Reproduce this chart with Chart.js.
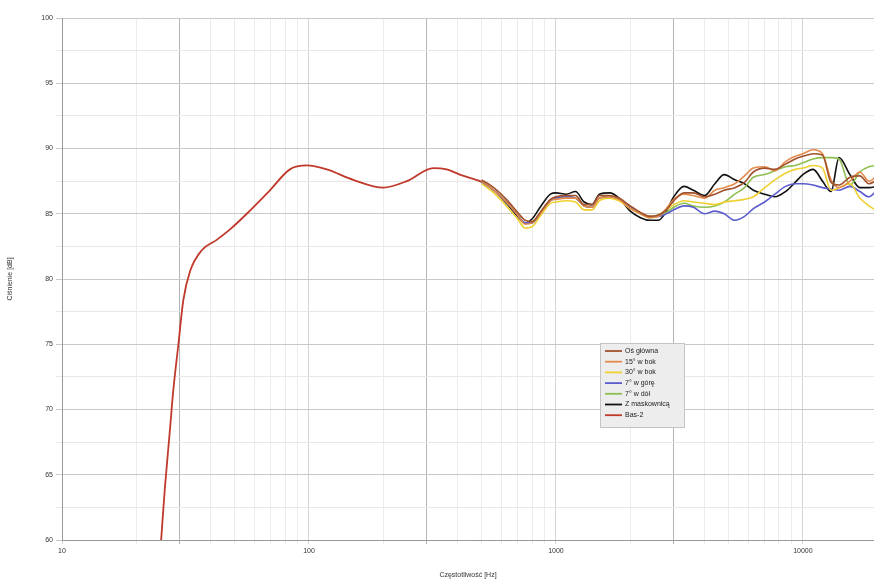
<!DOCTYPE html>
<html>
<head>
<meta charset="utf-8">
<script src="https://cdn.jsdelivr.net/npm/chart.js@4/dist/chart.umd.min.js"></script>
<style>
  body { margin: 0; background: #fff; }
  #wrap { width: 874px; height: 581px; position: relative; }
</style>
</head>
<body>
<div id="wrap"><canvas id="chart"></canvas></div>
<script>
// wspolne czestotliwosci dla pomiarow HF
const freqHF = [500,560,630,700,750,800,870,950,1000,1100,1200,1300,1400,1500,1650,1800,2000,2200,2400,2600,2800,3000,3300,3600,4000,4400,4800,5300,5800,6300,7000,7700,8500,9300,10000,11000,12000,13000,14000,15500,17000,18500,20000];

const osGlowna = [87.6,87.0,86.1,85.1,84.5,84.4,85.2,86.1,86.3,86.4, 86.4,85.7,85.7,86.4,86.4,86.2,85.6,85.1,84.8,84.9, 85.3,86.0,86.6,86.6,86.3,86.5,86.8,87.0,87.4,88.2, 88.5,88.4,88.8,89.2,89.4,89.6,89.5,87.4,87.2,87.8, 87.9,87.3,87.6];
const bok15 = [87.5,86.8,85.9,84.9,84.2,84.3,85.1,86.0,86.1,86.2, 86.2,85.6,85.5,86.2,86.3,86.1,85.4,85.0,84.7,84.8, 85.4,86.1,86.5,86.4,86.2,86.8,87.0,87.3,87.9,88.5, 88.6,88.3,89.0,89.4,89.6,89.9,89.6,87.6,87.0,87.5, 88.2,87.5,87.9];
const bok30 = [87.3,86.6,85.6,84.6,83.9,84.0,84.9,85.8,85.9,86.0, 85.9,85.3,85.3,86.0,86.2,86.0,85.4,85.0,84.8,84.9, 85.3,85.7,86.0,85.9,85.8,85.7,85.9,86.0,86.1,86.3, 87.0,87.6,88.1,88.4,88.5,88.7,88.5,86.8,87.0,87.3, 86.2,85.6,85.2];
const gora7 = [87.4,86.8,85.9,84.9,84.3,84.3,85.1,86.0,86.2,86.3, 86.2,85.6,85.5,86.2,86.3,86.1,85.5,85.0,84.8,84.8, 85.0,85.3,85.6,85.5,85.0,85.2,85.0,84.5,84.8,85.4, 85.9,86.5,87.1,87.3,87.3,87.2,87.0,86.9,86.8,87.1, 86.7,86.3,86.8];
const dol7 = [87.4,86.8,85.9,84.9,84.3,84.3,85.1,86.0,86.2,86.3, 86.2,85.6,85.5,86.2,86.3,86.1,85.5,85.0,84.7,84.8, 85.1,85.5,85.8,85.6,85.5,85.6,85.9,86.5,87.0,87.8, 88.0,88.3,88.6,88.7,88.9,89.2,89.3,89.3,89.2,87.2, 88.2,88.6,88.7];
const maskownica = [87.5,86.8,85.8,84.8,84.3,84.6,85.6,86.5,86.6,86.5, 86.7,85.9,85.7,86.5,86.6,86.2,85.2,84.7,84.5,84.5, 85.2,86.3,87.1,86.8,86.4,87.3,88.0,87.6,87.3,86.8, 86.5,86.3,86.7,87.4,88.0,88.4,87.5,86.7,89.3,88.0, 87.0,87.0,87.1];

// bas
const freqLF = [25.2,26.1,27.4,28.2,29.6,31,33,36.8,42.3,47.9,56,69.5,83.7,98,118,151,200,249,319,361,408,492,520];
const bas2 = [60,64.0,68.6,71.4,75.0,78.4,80.6,82.2,83.0,83.8,85.0,86.8,88.4,88.7,88.4,87.6,87.0,87.5,88.5,88.4,88.0,87.5,87.3];

const seriesNames = ["Oś główna", "15° w bok", "30° w bok", "7° w górę", "7° w dół", "Z maskownicą", "Bas-2"];
const seriesColors = ["#a0522d", "#e58a4a", "#f0d030", "#5c5cd0", "#8fbf50", "#111111", "#c0392b"];
const xTickLabels = [10, 100, 1000, 10000];
const thirdLines = [30, 300, 3000];

const hfSeries = [osGlowna, bok15, bok30, gora7, dol7, maskownica];

let datasets = [];
for (let i = 0; i < hfSeries.length; i++) {
  datasets.push({
    label: seriesNames[i],
    data: freqHF.map((f, k) => ({ x: f, y: hfSeries[i][k] })),
    borderColor: seriesColors[i],
    borderWidth: 1.6,
    pointRadius: 0,
    cubicInterpolationMode: "monotone"
  });
}
datasets.push({
  label: seriesNames[6],
  data: freqLF.map((f, k) => ({ x: f, y: bas2[k] })),
  borderColor: seriesColors[6],
  borderWidth: 1.8,
  pointRadius: 0,
  cubicInterpolationMode: "monotone"
});

// siatka x: 1..9 w kazdej dekadzie
let xGrid = [];
for (let d = 10; d <= 10000; d *= 10) {
  for (let m = 1; m <= 9; m++) {
    if (d * m <= 19400) xGrid.push(d * m);
  }
}

// legenda rysowana w srodku wykresu
const boxLegend = {
  id: "boxLegend",
  afterDraw(chart) {
    const ctx = chart.ctx;
    const x0 = 600, y0 = 343, w = 84, h = 84;
    ctx.save();
    ctx.fillStyle = "#ededed";
    ctx.strokeStyle = "#c4c4c4";
    ctx.lineWidth = 1;
    ctx.fillRect(x0, y0, w, h);
    ctx.strokeRect(x0 + 0.5, y0 + 0.5, w, h);
    ctx.font = "7px 'Liberation Sans', Arial, sans-serif";
    ctx.textBaseline = "middle";
    chart.data.datasets.forEach((ds, i) => {
      const y = y0 + 8 + i * 10.7;
      ctx.strokeStyle = ds.borderColor;
      ctx.lineWidth = 1.8;
      ctx.beginPath();
      ctx.moveTo(x0 + 5, y);
      ctx.lineTo(x0 + 22, y);
      ctx.stroke();
      ctx.fillStyle = "#222";
      ctx.fillText(ds.label, x0 + 25, y);
    });
    ctx.restore();
  }
};

const tickFont = { family: "'Liberation Sans', Arial, sans-serif", size: 7 };

new Chart(document.getElementById("chart"), {
  type: "line",
  data: { datasets: datasets },
  plugins: [boxLegend],
  options: {
    responsive: true,
    maintainAspectRatio: false,
    animation: false,
    layout: { padding: { top: 18, right: 0, left: 0, bottom: 0 } },
    plugins: { legend: { display: false }, tooltip: { enabled: false } },
    scales: {
      x: {
        type: "logarithmic",
        min: 10,
        max: 19400,
        afterBuildTicks: (scale) => { scale.ticks = xGrid.map(v => ({ value: v })); },
        afterFit: (scale) => { scale.height = 41; },
        ticks: {
          autoSkip: false,
          maxRotation: 0,
          padding: 3,
          color: "#333",
          font: tickFont,
          callback: (v) => xTickLabels.includes(v) ? String(v) : ""
        },
        grid: {
          tickLength: 4,
          color: (c) => {
            const v = c.tick ? c.tick.value : 0;
            if (thirdLines.includes(v)) return "#b4b4b4";
            if (xTickLabels.includes(v)) return "#d4d4d4";
            return "#ececec";
          }
        },
        border: { color: "#999" },
        title: {
          display: true,
          text: "Częstotliwość [Hz]",
          color: "#333",
          font: tickFont,
          padding: { top: 0, bottom: 2 }
        }
      },
      y: {
        min: 60,
        max: 100,
        afterFit: (scale) => { scale.width = 62; },
        ticks: {
          stepSize: 2.5,
          padding: 3,
          color: "#333",
          font: tickFont,
          callback: (v) => v % 5 === 0 ? String(v) : ""
        },
        grid: {
          tickLength: 6,
          color: (c) => (c.tick && c.tick.value % 5 === 0) ? "#c8c8c8" : "#e8e8e8"
        },
        border: { color: "#999" },
        title: {
          display: true,
          text: "Ciśnienie [dB]",
          color: "#333",
          font: tickFont,
          padding: { top: 6, bottom: 4 }
        }
      }
    }
  }
});
</script>
</body>
</html>
